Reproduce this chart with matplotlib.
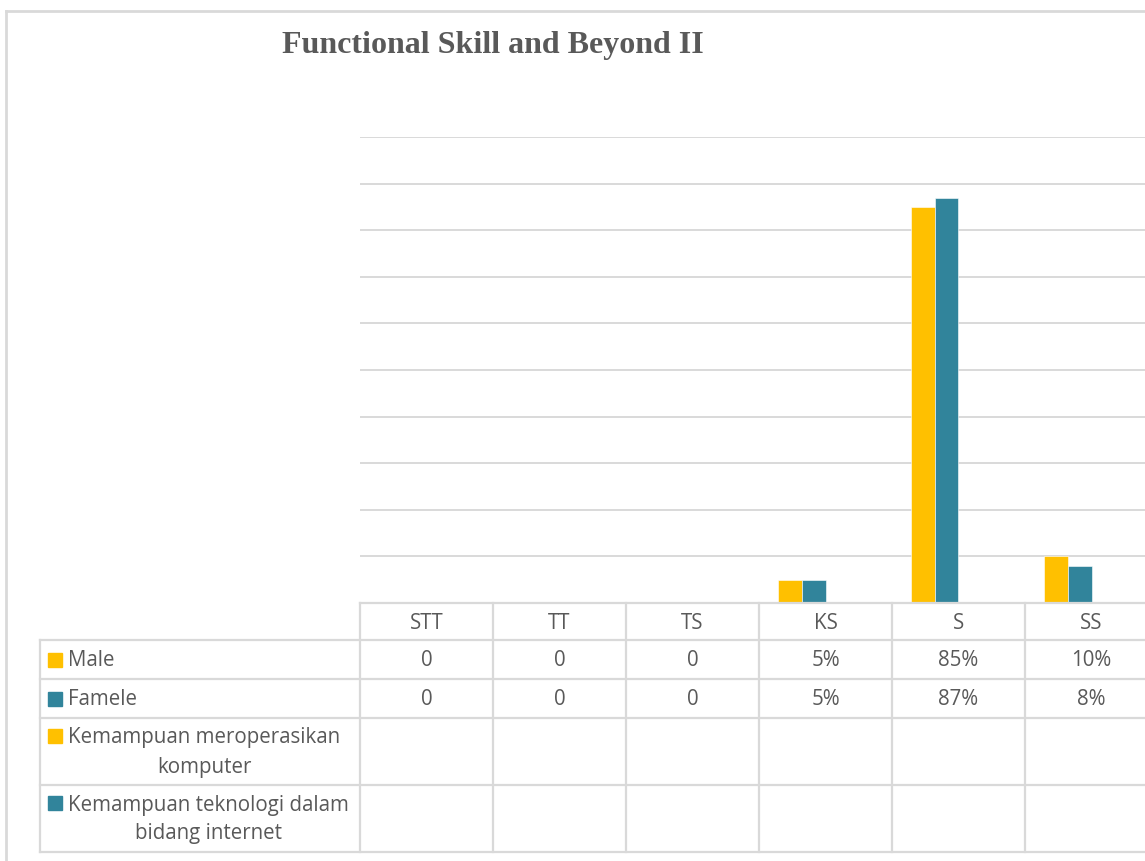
import numpy as np
import matplotlib.pyplot as plt
from matplotlib.patches import Rectangle

categories = ["STT", "TT", "TS", "KS", "S", "SS"]
series_names = ["Male", "Famele", "Kemampuan meroperasikan\nkomputer",
                "Kemampuan teknologi dalam\nbidang internet"]
male = [0, 0, 0, 5, 85, 10]
famele = [0, 0, 0, 5, 87, 8]
male_labels = ["0", "0", "0", "5%", "85%", "10%"]
famele_labels = ["0", "0", "0", "5%", "87%", "8%"]
komputer = [np.nan] * 6
internet = [np.nan] * 6

colors = ["#FFC000", "#31849B", "#FFC000", "#31849B"]
grid_c = "#D9D9D9"
text_c = "#595959"

W, H = 1145, 861
fig = plt.figure(figsize=(W / 100, H / 100), dpi=100)

# plot area in pixels
left, col_w = 360, 133
top, base = 137, 603
n = len(categories)
ax = fig.add_axes([left / W, 1 - base / H, n * col_w / W, (base - top) / H])
ax.set_xlim(-0.5, n - 0.5)
ax.set_ylim(0, 100)
ax.set_yticks(np.arange(0, 101, 10))
ax.grid(axis="y", color=grid_c, lw=1.4)
ax.set_axisbelow(True)
ax.tick_params(left=False, bottom=False, labelleft=False, labelbottom=False)
for s in ax.spines.values():
    s.set_visible(False)

x = np.arange(n)
bw = 24 / col_w
all_series = [male, famele, komputer, internet]
for i, vals in enumerate(all_series):
    ax.bar(x + (i - 1.5) * bw, vals, bw, color=colors[i],
           edgecolor="white", linewidth=0.4)

# overlay in pixel coordinates for the border and data table
ov = fig.add_axes([0, 0, 1, 1])
ov.set_xlim(0, W)
ov.set_ylim(H, 0)
ov.axis("off")

lw = 1.6
ov.plot([6, W], [11, 11], color=grid_c, lw=2)
ov.plot([6, 6], [11, H], color=grid_c, lw=2)

ov.text(493, 46, "Functional Skill and Beyond II", ha="center", va="center",
        fontsize=23, fontweight="bold", family="Liberation Serif", color=text_c)

row_edges = [603, 640, 679, 718, 785, 852]
tab_left = 40
right = left + n * col_w
for j, y in enumerate(row_edges):
    x0 = left if j == 0 else tab_left
    ov.plot([x0, right], [y, y], color=grid_c, lw=lw)
ov.plot([tab_left, tab_left], [row_edges[1], row_edges[-1]], color=grid_c, lw=lw)
for k in range(n + 1):
    xc = left + k * col_w
    ov.plot([xc, xc], [row_edges[0], row_edges[-1]], color=grid_c, lw=lw)

fs = 14.8
font = "Open Sans"
for k, cat in enumerate(categories):
    cx = left + (k + 0.5) * col_w
    ov.text(cx, (row_edges[0] + row_edges[1]) / 2 + 2, cat, ha="center",
            va="center", fontsize=fs, family=font, color=text_c)
    ov.text(cx, (row_edges[1] + row_edges[2]) / 2 + 1, male_labels[k],
            ha="center", va="center", fontsize=fs, family=font, color=text_c)
    ov.text(cx, (row_edges[2] + row_edges[3]) / 2 + 1, famele_labels[k],
            ha="center", va="center", fontsize=fs, family=font, color=text_c)

for i, name in enumerate(series_names):
    y0, y1 = row_edges[i + 1], row_edges[i + 2]
    yc = (y0 + y1) / 2
    if "\n" in name:
        key_y = y0 + 18
    else:
        key_y = yc
    ov.add_patch(Rectangle((48, key_y - 7), 14, 14, color=colors[i]))
    ov.text(68, yc + 1, name, ha="left", va="center", multialignment="center",
            fontsize=fs, family=font, color=text_c, linespacing=1.5)

fig.savefig("out.png", dpi=100)
